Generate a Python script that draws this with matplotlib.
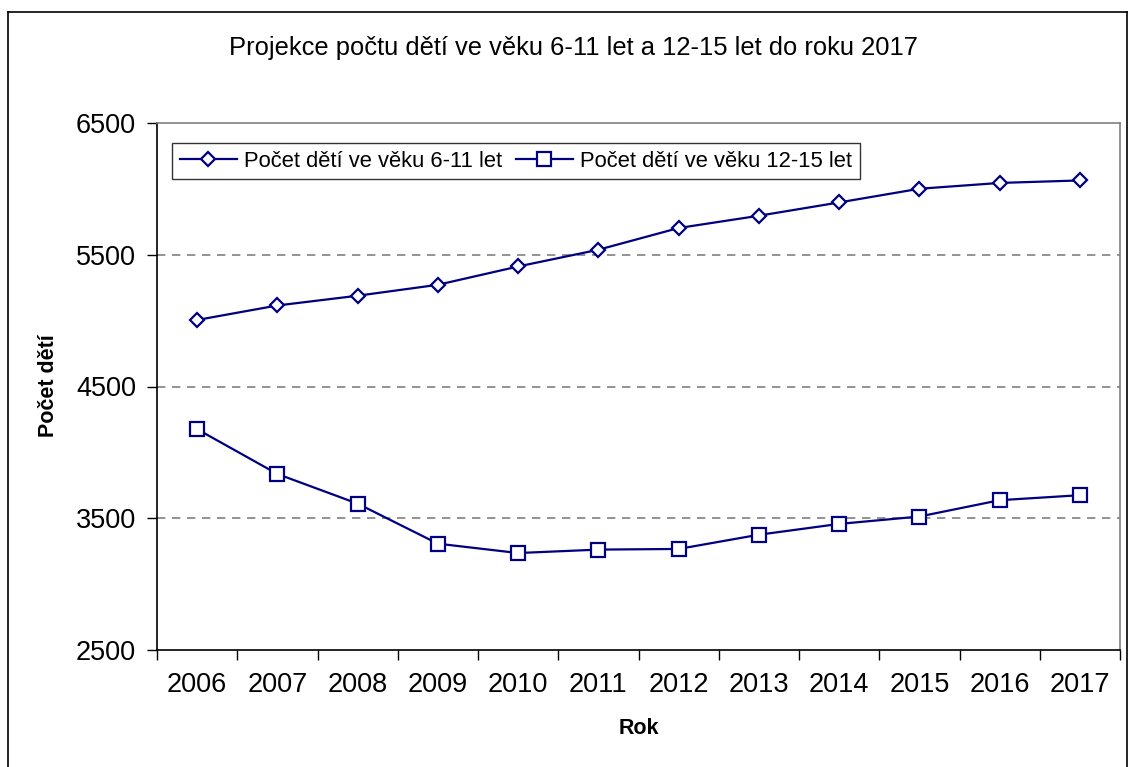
import matplotlib
matplotlib.use("Agg")
import matplotlib.pyplot as plt
from matplotlib.lines import Line2D

plt.rcParams['font.family'] = ['Liberation Sans', 'DejaVu Sans']

years = ["2006", "2007", "2008", "2009", "2010", "2011",
         "2012", "2013", "2014", "2015", "2016", "2017"]
deti_6_11 = [5005, 5115, 5189, 5272, 5411, 5538, 5703, 5796, 5897, 6001, 6045, 6064]
deti_12_15 = [4176, 3836, 3611, 3307, 3236, 3262, 3267, 3375, 3457, 3513, 3637, 3675]
yticks = [2500, 3500, 4500, 5500, 6500]

title = "Projekce počtu dětí ve věku 6-11 let a 12-15 let do roku 2017"
label1 = "Počet dětí ve věku 6-11 let"
label2 = "Počet dětí ve věku 12-15 let"

W, H = 1129, 767
fig = plt.figure(figsize=(W / 100, H / 100), dpi=100)

# outer chart frame
frame_color = "#000000"
fig.add_artist(Line2D([8 / W, 8 / W], [1 - 12 / H, 0], transform=fig.transFigure, color=frame_color, lw=1.2))
fig.add_artist(Line2D([8 / W, 1127 / W], [1 - 12 / H, 1 - 12 / H], transform=fig.transFigure, color=frame_color, lw=1.2))
fig.add_artist(Line2D([1127 / W, 1127 / W], [1 - 12 / H, 0], transform=fig.transFigure, color=frame_color, lw=1.2))

left, right, top, bottom = 157, 1120, 123, 650
ax = fig.add_axes([left / W, 1 - bottom / H, (right - left) / W, (bottom - top) / H])

x = list(range(len(years)))
navy = "#000080"
ax.plot(x, deti_6_11, color=navy, lw=1.6, marker="D", markersize=7.5,
        markerfacecolor="white", markeredgecolor=navy, markeredgewidth=1.6, label=label1, zorder=3)
ax.plot(x, deti_12_15, color=navy, lw=1.6, marker="s", markersize=9.5,
        markerfacecolor="white", markeredgecolor=navy, markeredgewidth=1.6, label=label2, zorder=3)

ax.set_xlim(-0.5, len(years) - 0.5)
ax.set_ylim(yticks[0], yticks[-1])
ax.set_yticks(yticks)
ax.set_yticklabels([str(v) for v in yticks], fontsize=19.5)
ax.set_xticks(x)
ax.set_xticklabels(years, fontsize=19.5)
ax.tick_params(axis="x", length=0, pad=16)
ax.set_xticks([i - 0.5 for i in range(len(years) + 1)], minor=True)
ax.tick_params(axis="x", which="minor", length=7, width=1, direction="out", color="black")
ax.tick_params(axis="y", length=7, width=1, direction="out", pad=8, color="black")

for v in yticks[1:-1]:
    ax.axhline(v, color="#808080", lw=1.2, ls=(0, (5, 4)), zorder=1)

ax.spines["left"].set_color("black")
ax.spines["bottom"].set_color("black")
ax.spines["top"].set_color("#808080")
ax.spines["right"].set_color("#808080")
for s in ax.spines.values():
    s.set_linewidth(1.2)

fig.text(573 / W, 1 - 48 / H, title, fontsize=18.4, ha="center", va="center")
fig.text(48 / W, 1 - 386 / H, "Počet dětí", fontsize=15.5, fontweight="bold",
         rotation=90, ha="center", va="center")
fig.text(639 / W, 1 - 729 / H, "Rok", fontsize=15.5, fontweight="bold", ha="center", va="center")

leg = ax.legend(loc="upper left", bbox_to_anchor=(172 / W, 1 - 143 / H), bbox_transform=fig.transFigure,
                ncol=2, frameon=True, fancybox=False, fontsize=15.8, handlelength=2.6,
                columnspacing=0.6, handletextpad=0.35, borderpad=0.35, borderaxespad=0)
leg.get_frame().set_edgecolor("black")
leg.get_frame().set_linewidth(1.0)

fig.savefig("out.png", dpi=100)
